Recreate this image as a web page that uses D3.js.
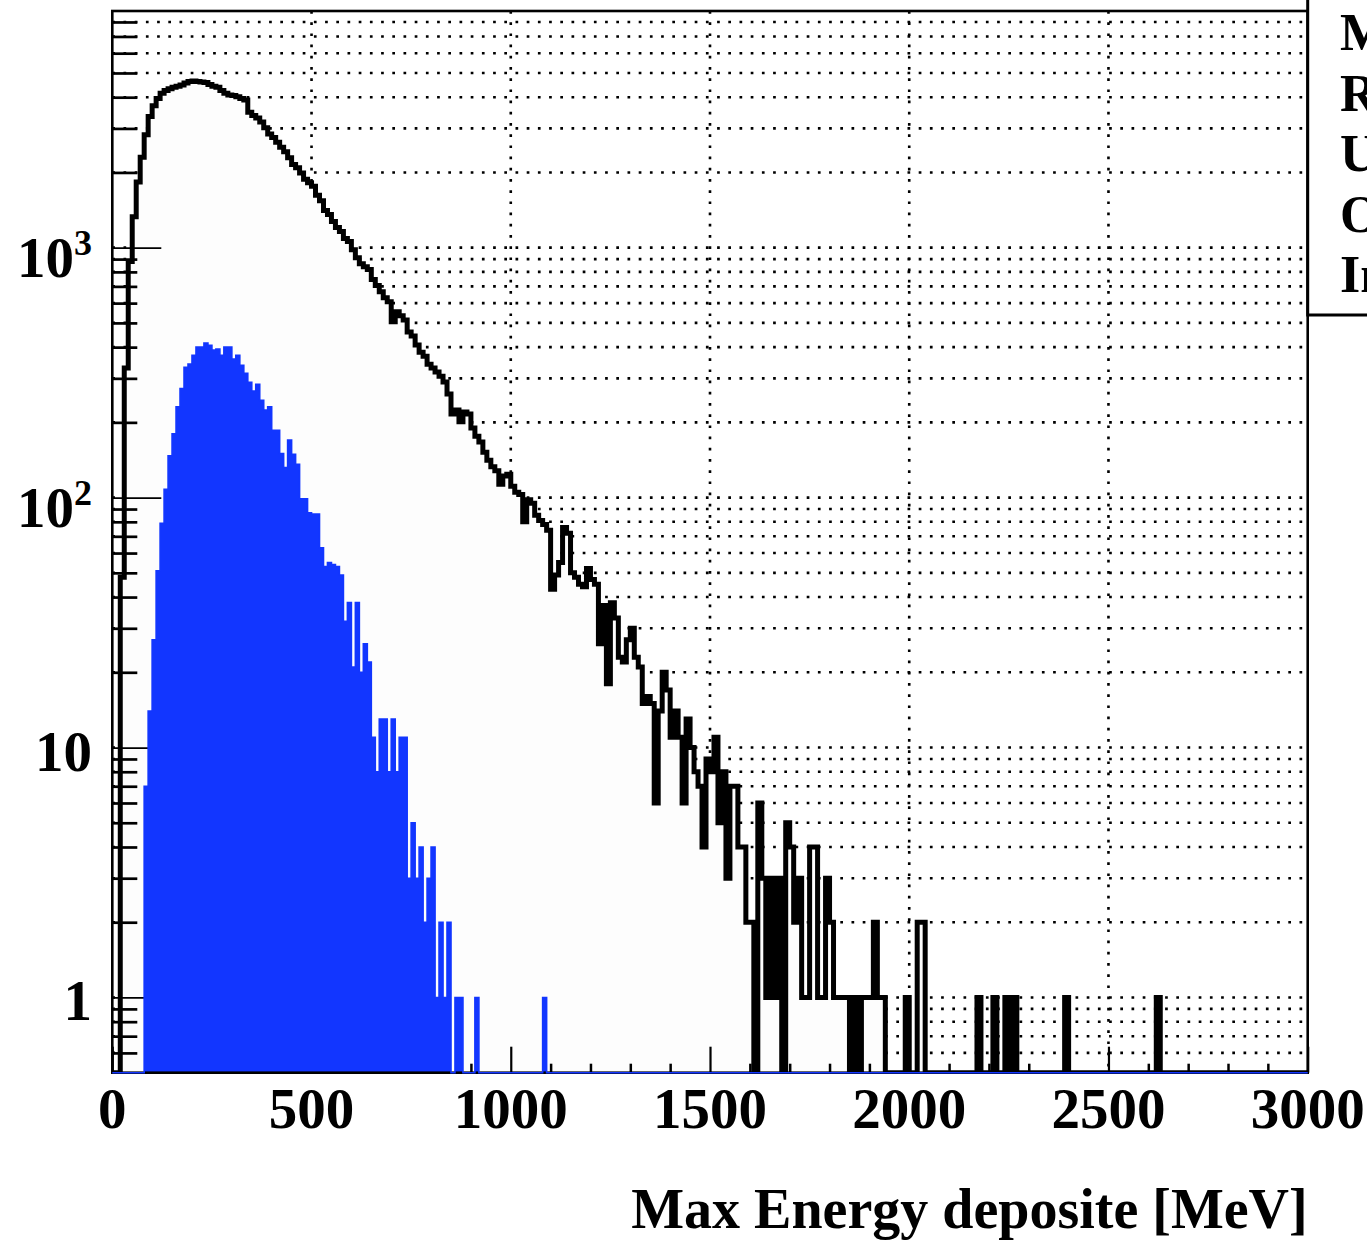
<!DOCTYPE html>
<html>
<head>
<meta charset="utf-8">
<script src="https://cdn.jsdelivr.net/npm/d3@7"></script>
<style>
  html, body { margin: 0; padding: 0; background: #ffffff; }
  svg { display: block; }
  text { font-family: "Liberation Serif", "Times New Roman", Times, serif; font-weight: bold; fill: #000; }
</style>
</head>
<body>
<svg id="chart" width="1367" height="1241"></svg>
<script>
// ---- histogram binning: 300 bins of 10 MeV from 0 to 3000 MeV ----
const binWidth = 10;
const xRange = [0, 3000];

// all events (black outline)
const allEvents = [
  0, 0, 48, 330, 880, 1330, 1830, 2300, 2830, 3350,
  3700, 3950, 4150, 4250, 4320, 4380, 4420, 4480, 4560, 4620,
  4640, 4620, 4600, 4580, 4500, 4420, 4380, 4250, 4150, 4080,
  4060, 4020, 3950, 3900, 3480, 3380, 3300, 3180, 3020, 2850,
  2760, 2640, 2520, 2420, 2290, 2150, 2090, 1990, 1880, 1820,
  1760, 1620, 1540, 1410, 1358, 1274, 1205, 1161, 1088, 1058,
  982, 912, 862, 839, 817, 745, 705, 667, 631, 608,
  505, 554, 534, 514, 460, 443, 408, 382, 368, 342,
  330, 318, 306, 290, 260, 216, 224, 201, 220, 216,
  190, 176, 167, 152, 141, 133, 128, 113, 122, 124,
  111, 105, 103, 80, 98, 95, 85, 81, 78, 74,
  43, 49, 55, 76, 72, 50, 48, 45, 44, 52,
  47, 45, 26, 37, 18, 38, 33, 23, 22, 27,
  30, 23, 21, 15, 16, 15, 6, 14, 20, 17,
  11, 14, 11, 6, 13, 10, 8, 7, 4, 9,
  8, 11, 5, 8, 3, 7, 7, 4, 4, 2,
  2, 0, 6, 3, 1, 3, 1, 3, 0, 5,
  4, 2, 3, 1, 1, 4, 4, 1, 1, 3,
  2, 1, 1, 1, 1, 0, 1, 0, 1, 1,
  1, 2, 1, 1, 0, 0, 0, 0, 0, 1,
  0, 0, 2, 2, 0, 0, 0, 0, 0, 0,
  0, 0, 0, 0, 0, 0, 0, 1, 0, 0,
  0, 1, 0, 0, 1, 0, 1, 0, 0, 0,
  0, 0, 0, 0, 0, 0, 0, 0, 0, 1,
  0, 0, 0, 0, 0, 0, 0, 0, 0, 0,
  0, 0, 0, 0, 0, 0, 0, 0, 0, 0,
  0, 0, 1, 0, 0, 0, 0, 0, 0, 0,
  0, 0, 0, 0, 0, 0, 0, 0, 0, 0,
  0, 0, 0, 0, 0, 0, 0, 0, 0, 0,
  0, 0, 0, 0, 0, 0, 0, 0, 0, 0
];

// selected events (blue filled)
const selectedEvents = [
  0, 0, 0, 0, 0, 0, 0, 0, 7, 14,
  27, 51, 79, 108, 147, 180, 231, 273, 332, 342,
  371, 400, 400, 415, 407, 389, 393, 371, 400, 400,
  358, 371, 338, 314, 289, 267, 284, 245, 224, 231,
  186, 186, 150, 132, 170, 149, 136, 99, 99, 87,
  86, 86, 63, 53, 55, 54, 53, 49, 32, 38,
  21, 38, 20, 26, 22, 11, 8, 13, 13, 8,
  13, 8, 11, 11, 3, 5, 3, 4, 2, 3,
  4, 1, 2, 1, 2, 0, 1, 1, 0, 0,
  0, 1, 0, 0, 0, 0, 0, 0, 0, 0,
  0, 0, 0, 0, 0, 0, 0, 0, 1, 0,
  0, 0, 0, 0, 0, 0, 0, 0, 0, 0,
  0, 0, 0, 0, 0, 0, 0, 0, 0, 0,
  0, 0, 0, 0, 0, 0, 0, 0, 0, 0,
  0, 0, 0, 0, 0, 0, 0, 0, 0, 0,
  0, 0, 0, 0, 0, 0, 0, 0, 0, 0,
  0, 0, 0, 0, 0, 0, 0, 0, 0, 0,
  0, 0, 0, 0, 0, 0, 0, 0, 0, 0,
  0, 0, 0, 0, 0, 0, 0, 0, 0, 0,
  0, 0, 0, 0, 0, 0, 0, 0, 0, 0,
  0, 0, 0, 0, 0, 0, 0, 0, 0, 0,
  0, 0, 0, 0, 0, 0, 0, 0, 0, 0,
  0, 0, 0, 0, 0, 0, 0, 0, 0, 0,
  0, 0, 0, 0, 0, 0, 0, 0, 0, 0,
  0, 0, 0, 0, 0, 0, 0, 0, 0, 0,
  0, 0, 0, 0, 0, 0, 0, 0, 0, 0,
  0, 0, 0, 0, 0, 0, 0, 0, 0, 0,
  0, 0, 0, 0, 0, 0, 0, 0, 0, 0,
  0, 0, 0, 0, 0, 0, 0, 0, 0, 0,
  0, 0, 0, 0, 0, 0, 0, 0, 0, 0
];

// axis ticks and labels
const xMajorTicks = [0, 500, 1000, 1500, 2000, 2500, 3000];
const xTickLabels = ["0", "500", "1000", "1500", "2000", "2500", "3000"];
const xMinorStep = 100;
const yMajorTicks = [1, 10, 100, 1000];
const yTickBase = ["1", "10", "10", "10"];
const yTickExponent = ["", "", "2", "3"];
const yDomain = [0.5, 8850];
const xTitle = "Max Energy deposite [MeV]";
const statsLabels = ["Mean", "RMS", "Underflow", "Overflow", "Integral"];

// ---- layout ----
const frame = { left: 112.3, right: 1307.7, top: 11, bottom: 1072.7 };
const svg = d3.select("#chart");

const x = d3.scaleLinear().domain(xRange).range([frame.left, frame.right]);
const y = d3.scaleLog().domain(yDomain).range([frame.bottom, frame.top]);
const yFloor = yDomain[0];

svg.append("defs").append("clipPath").attr("id", "frameClip")
  .append("rect")
  .attr("x", frame.left).attr("y", frame.top)
  .attr("width", frame.right - frame.left).attr("height", frame.bottom - frame.top);

// ---- dotted grid ----
const gridValues = y.ticks().filter(v => v > yFloor);
const xGridValues = xMajorTicks.filter(v => v > xRange[0] && v < xRange[1]);
const grid = svg.append("g")
  .attr("stroke", "#000").attr("stroke-width", 2.6)
  .attr("stroke-dasharray", "2.7 8.5").attr("fill", "none");
grid.selectAll("line.h").data(gridValues).join("line")
  .attr("class", "h")
  .attr("x1", frame.left).attr("x2", frame.right)
  .attr("y1", d => y(d)).attr("y2", d => y(d));
grid.selectAll("line.v").data(xGridValues).join("line")
  .attr("class", "v")
  .attr("x1", d => x(d)).attr("x2", d => x(d))
  .attr("y1", frame.top).attr("y2", frame.bottom);

// ---- histogram helpers ----
function stepPoints(counts) {
  const pts = [[xRange[0], 0]];
  counts.forEach((c, i) => pts.push([xRange[0] + i * binWidth, c]));
  pts.push([xRange[0] + counts.length * binWidth, counts[counts.length - 1]]);
  pts.push([xRange[0] + counts.length * binWidth, 0]);
  return pts;
}
const yOf = v => y(Math.max(v, yFloor));
const stepLine = d3.line().x(d => x(d[0])).y(d => yOf(d[1])).curve(d3.curveStepAfter);
const stepArea = d3.area().x(d => x(d[0])).y0(frame.bottom).y1(d => yOf(d[1])).curve(d3.curveStepAfter);

const allPts = stepPoints(allEvents);
const selPts = stepPoints(selectedEvents);

// black histogram: white fill hides the grid underneath
const histLayer = svg.append("g").attr("clip-path", "url(#frameClip)");
histLayer.append("path").attr("d", stepArea(allPts)).attr("fill", "#fdfdfd");
histLayer.append("path").attr("d", stepLine(allPts))
  .attr("fill", "none").attr("stroke", "#000").attr("stroke-width", 5)
  .attr("stroke-linejoin", "miter");

// ---- axis ticks (inward) ----
const yMinor = y.ticks().filter(v => v > yFloor && !yMajorTicks.includes(v));
const yMinorAxis = d3.axisRight(y).tickValues(yMinor).tickSize(25).tickFormat("");
const yMajorAxis = d3.axisRight(y).tickValues(yMajorTicks).tickSize(49).tickFormat("");
const gyMinor = svg.append("g").attr("transform", `translate(${frame.left},0)`).call(yMinorAxis);
const gyMajor = svg.append("g").attr("transform", `translate(${frame.left},0)`).call(yMajorAxis);
[gyMinor, gyMajor].forEach(g => g.select(".domain").remove());
gyMinor.selectAll("line").attr("stroke", "#000").attr("stroke-width", 2.7);
gyMajor.selectAll("line").attr("stroke", "#000").attr("stroke-width", 1.8);

const xMinor = d3.range(xRange[0] + xMinorStep, xRange[1], xMinorStep).filter(v => !xMajorTicks.includes(v));
const xMinorAxis = d3.axisTop(x).tickValues(xMinor).tickSize(9).tickFormat("");
const xMajorAxis = d3.axisTop(x).tickValues(xMajorTicks).tickSize(26).tickFormat("");
const gxMinor = svg.append("g").attr("transform", `translate(0,${frame.bottom})`).call(xMinorAxis);
const gxMajor = svg.append("g").attr("transform", `translate(0,${frame.bottom})`).call(xMajorAxis);
[gxMinor, gxMajor].forEach(g => g.select(".domain").remove());
gxMinor.selectAll("line").attr("stroke", "#000").attr("stroke-width", 2.5);
gxMajor.selectAll("line").attr("stroke", "#000").attr("stroke-width", 2.2);

// ---- blue filled histogram ----
svg.append("g").attr("clip-path", "url(#frameClip)")
  .append("path").attr("d", stepArea(selPts)).attr("fill", "#1236ff");

// ---- frame ----
svg.append("rect")
  .attr("x", frame.left).attr("y", frame.top)
  .attr("width", frame.right - frame.left).attr("height", frame.bottom - frame.top)
  .attr("fill", "none").attr("stroke", "#000").attr("stroke-width", 2.6);

// blue outline (its zero level runs along the frame bottom)
svg.append("path").attr("d", stepLine(selPts))
  .attr("fill", "none").attr("stroke", "#1236ff").attr("stroke-width", 1.6);

// ---- tick labels ----
svg.append("g").selectAll("text").data(xMajorTicks).join("text")
  .attr("x", d => x(d)).attr("y", 1128)
  .attr("text-anchor", "middle").attr("font-size", 57)
  .text((d, i) => xTickLabels[i]);

const yLab = svg.append("g").selectAll("text").data(yMajorTicks).join("text")
  .attr("x", 92)
  .attr("y", (d, i) => y(d) + (yTickExponent[i] ? 29 : 23))
  .attr("text-anchor", "end").attr("font-size", 57);
yLab.append("tspan").text((d, i) => yTickBase[i]);
yLab.filter((d, i) => yTickExponent[i] !== "")
  .append("tspan").attr("font-size", 36).attr("dy", -22)
  .text(d => yTickExponent[yMajorTicks.indexOf(d)]);

// ---- axis title ----
svg.append("text").attr("x", frame.right).attr("y", 1228)
  .attr("text-anchor", "end").attr("font-size", 56).text(xTitle);

// ---- statistics box (extends beyond the right edge) ----
svg.append("path")
  .attr("d", `M${frame.right},0 V315 H1367`)
  .attr("fill", "none").attr("stroke", "#000").attr("stroke-width", 3);
svg.append("g").selectAll("text").data(statsLabels).join("text")
  .attr("x", 1340).attr("y", (d, i) => 50 + i * 60.5)
  .attr("font-size", 52).text(d => d);
</script>
</body>
</html>
